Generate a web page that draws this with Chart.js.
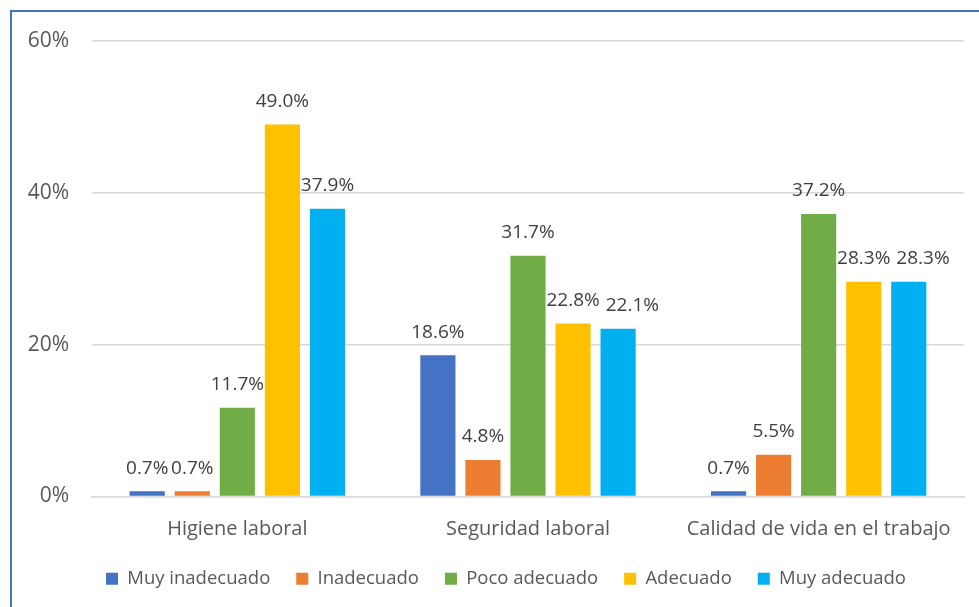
<!DOCTYPE html>
<html>
<head>
<meta charset="utf-8">
<script src="https://cdn.jsdelivr.net/npm/chart.js@4"></script>
<style>
  html, body { margin: 0; padding: 0; background: #fff; }
  body { width: 979px; height: 607px; position: relative; overflow: hidden; }
  #frame { position: absolute; left: 10px; top: 10px; width: 1000px; height: 700px;
           border: 2px solid #4472C4; box-sizing: border-box; }
  #wrap { position: absolute; left: 0; top: 0; width: 979px; height: 607px; }
</style>
</head>
<body>
<div id="frame"></div>
<div id="wrap"><canvas id="chart"></canvas></div>
<script>
/* ── Data ── */
const categories = ["Higiene laboral", "Seguridad laboral", "Calidad de vida en el trabajo"];
const seriesNames = ["Muy inadecuado", "Inadecuado", "Poco adecuado", "Adecuado", "Muy adecuado"];
const muyInadecuado = [0.7, 18.6, 0.7];
const inadecuado    = [0.7, 4.8, 5.5];
const pocoAdecuado  = [11.7, 31.7, 37.2];
const adecuado      = [49.0, 22.8, 28.3];
const muyAdecuado   = [37.9, 22.1, 28.3];
const yTicks = [0, 20, 40, 60];

const colors = ["#4472C4", "#ED7D31", "#70AD47", "#FFC000", "#00B0F0"];
const FONT = "'Open Sans', 'Noto Sans', sans-serif";

/* ── Value labels above each bar (nudged right when they collide) ── */
const barLabels = {
  id: "barLabels",
  afterDatasetsDraw(chart) {
    const ctx = chart.ctx;
    ctx.save();
    ctx.font = "19px " + FONT;
    ctx.fillStyle = "#404040";
    ctx.textAlign = "center";
    ctx.textBaseline = "middle";
    const nCat = chart.data.labels.length;
    for (let j = 0; j < nCat; j++) {
      let prev = null;
      chart.data.datasets.forEach((ds, i) => {
        const bar = chart.getDatasetMeta(i).data[j];
        const txt = ds.data[j].toFixed(1) + "%";
        const w = ctx.measureText(txt).width;
        let x = bar.x;
        const y = bar.y - 23;
        if (prev && Math.abs(prev.y - y) < 20 && x - w / 2 < prev.right) {
          x = prev.right + 6 + w / 2;
        }
        ctx.fillText(txt, x, y);
        prev = { right: x + w / 2, y };
      });
    }
    ctx.restore();
  }
};

/* ── Legend sits centred under the plot area rather than the canvas ── */
const legendShift = {
  id: "legendShift",
  afterLayout(chart) {
    const lg = chart.legend;
    const dx = 24;
    lg.left += dx;
    lg.right += dx;
  }
};

const seriesData = [muyInadecuado, inadecuado, pocoAdecuado, adecuado, muyAdecuado];

new Chart(document.getElementById("chart"), {
  type: "bar",
  data: {
    labels: categories,
    datasets: seriesNames.map((name, i) => ({
      label: name,
      data: seriesData[i],
      backgroundColor: colors[i],
      borderWidth: 0,
      categoryPercentage: 0.775,
      barPercentage: 0.78
    }))
  },
  options: {
    responsive: true,
    maintainAspectRatio: false,
    animation: false,
    layout: { padding: { top: 41, right: 15, left: 0, bottom: 9 } },
    plugins: {
      tooltip: { enabled: false },
      legend: {
        position: "bottom",
        maxHeight: 69,
        labels: {
          font: { family: FONT, size: 18.5 },
          color: "#595959",
          boxWidth: 12,
          boxHeight: 12,
          padding: 26
        }
      }
    },
    scales: {
      x: {
        grid: { display: false },
        border: { color: "#D9D9D9", width: 1.5 },
        ticks: { font: { family: FONT, size: 20 }, color: "#595959", padding: 13 },
        afterFit(s) { s.height = 47; }
      },
      y: {
        min: 0, max: 60,
        afterBuildTicks(s) { s.ticks = yTicks.map(v => ({ value: v })); },
        grid: { color: "#D9D9D9", lineWidth: 1.5, drawTicks: false },
        border: { display: false },
        ticks: {
          font: { family: FONT, size: 21 },
          color: "#595959",
          padding: 23,
          callback: v => v + "%"
        },
        afterFit(s) { s.width = 92; }
      }
    }
  },
  plugins: [barLabels, legendShift]
});
</script>
</body>
</html>
